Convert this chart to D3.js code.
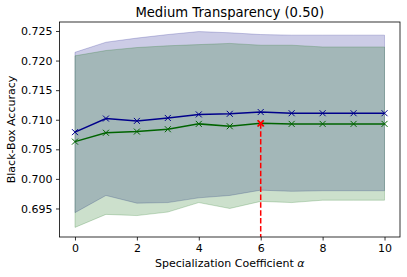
<!DOCTYPE html>
<html>
<head>
<meta charset="utf-8">
<script src="https://cdn.jsdelivr.net/npm/d3@7"></script>
<style>
  body { margin: 0; background: #fff; }
  text { font-family: "DejaVu Sans", sans-serif; }
</style>
</head>
<body>
<div id="chart"></div>
<script>
// data
var alphas = [0, 1, 2, 3, 4, 5, 6, 7, 8, 9, 10];
var blueMean  = [0.7079, 0.7102, 0.7098, 0.7103, 0.7109, 0.7110, 0.7113, 0.7111, 0.7111, 0.7111, 0.7111];
var blueUpper = [0.7214, 0.7231, 0.7238, 0.7244, 0.7249, 0.7247, 0.7244, 0.7243, 0.7243, 0.7243, 0.7243];
var blueLower = [0.6943, 0.6972, 0.6959, 0.6960, 0.6968, 0.6972, 0.6981, 0.6979, 0.6980, 0.6980, 0.6980];
var greenMean  = [0.7063, 0.7078, 0.7080, 0.7084, 0.7093, 0.7089, 0.7094, 0.7093, 0.7093, 0.7093, 0.7093];
var greenUpper = [0.7208, 0.7217, 0.7222, 0.7225, 0.7227, 0.7229, 0.7226, 0.7226, 0.7223, 0.7223, 0.7223];
var greenLower = [0.6918, 0.6940, 0.6938, 0.6944, 0.6960, 0.6950, 0.6962, 0.6960, 0.6964, 0.6964, 0.6964];
var bestAlpha = 6;
var xTicks = [0, 2, 4, 6, 8, 10];
var yTicks = [0.695, 0.700, 0.705, 0.710, 0.715, 0.720, 0.725];

var margin = {top: 22, right: 7, bottom: 40, left: 59.5},
    width = 407 - margin.left - margin.right,
    height = 277 - margin.top - margin.bottom;

var svg = d3.select("#chart")
  .append("svg")
    .attr("width", 407)
    .attr("height", 277)
  .append("g")
    .attr("transform", "translate(" + margin.left + "," + margin.top + ")");

var x = d3.scaleLinear()
    .domain([-0.5, 10.5])
    .range([0, width]);

var y = d3.scaleLinear()
    .domain([0.69018, 0.72652])
    .range([height, 0]);

// bands
function band(upper, lower, fill) {
  var area = d3.area()
      .x(function(d, i) { return x(alphas[i]); })
      .y0(function(d, i) { return y(lower[i]); })
      .y1(function(d, i) { return y(upper[i]); });
  svg.append("path")
      .datum(upper)
      .attr("d", area)
      .style("fill", fill)
      .style("fill-opacity", 0.2)
      .style("stroke", fill)
      .style("stroke-opacity", 0.2)
      .style("stroke-width", 1);
}
band(blueUpper, blueLower, "#000080");
band(greenUpper, greenLower, "#006400");

// lines with x markers
function series(vals, color) {
  var line = d3.line()
      .x(function(d, i) { return x(alphas[i]); })
      .y(function(d) { return y(d); });
  svg.append("path")
      .datum(vals)
      .attr("d", line)
      .style("fill", "none")
      .style("stroke", color)
      .style("stroke-width", 1.5);
  svg.selectAll(null)
      .data(vals)
      .enter().append("path")
        .attr("transform", function(d, i) { return "translate(" + x(alphas[i]) + "," + y(d) + ")"; })
        .attr("d", "M-3,-3L3,3M-3,3L3,-3")
        .style("stroke", color)
        .style("stroke-width", 1);
}
series(blueMean, "#00008b");
series(greenMean, "#006400");

// best alpha marker
var bestVal = greenMean[alphas.indexOf(bestAlpha)];
svg.append("line")
    .attr("x1", x(bestAlpha))
    .attr("x2", x(bestAlpha))
    .attr("y1", y(bestVal))
    .attr("y2", height)
    .style("stroke", "red")
    .style("stroke-width", 1.5)
    .style("stroke-dasharray", "5.5,2.4");
svg.append("path")
    .attr("transform", "translate(" + x(bestAlpha) + "," + y(bestVal) + ")")
    .attr("d", "M-3,-3L3,3M-3,3L3,-3")
    .style("stroke", "red")
    .style("stroke-width", 1.8);

// frame
svg.append("rect")
    .attr("width", width)
    .attr("height", height)
    .style("fill", "none")
    .style("stroke", "#000")
    .style("stroke-width", 0.8);

// axes
var xAxis = svg.append("g")
    .attr("transform", "translate(0," + height + ")")
    .call(d3.axisBottom(x).tickValues(xTicks).tickSize(3.5).tickPadding(3.5));
var yAxis = svg.append("g")
    .call(d3.axisLeft(y).tickValues(yTicks).tickFormat(d3.format(".3f")).tickSize(3.5).tickPadding(3.5));
[xAxis, yAxis].forEach(function(a) {
  a.select(".domain").remove();
  a.selectAll("line").style("stroke", "#000").style("stroke-width", 0.8);
  a.selectAll("text").style("font-size", "11px").style("fill", "#000");
});

// title and labels
svg.append("text")
    .attr("x", width / 2)
    .attr("y", -5.5)
    .attr("text-anchor", "middle")
    .style("font-size", "13.2px")
    .text("Medium Transparency (0.50)");

svg.append("text")
    .attr("x", width / 2)
    .attr("y", height + 30)
    .attr("text-anchor", "middle")
    .style("font-size", "11px")
    .text("Specialization Coefficient ")
  .append("tspan")
    .style("font-style", "italic")
    .text("α");

svg.append("text")
    .attr("transform", "rotate(-90)")
    .attr("x", -height / 2)
    .attr("y", -44.5)
    .attr("text-anchor", "middle")
    .style("font-size", "11px")
    .text("Black-Box Accuracy");
</script>
</body>
</html>
